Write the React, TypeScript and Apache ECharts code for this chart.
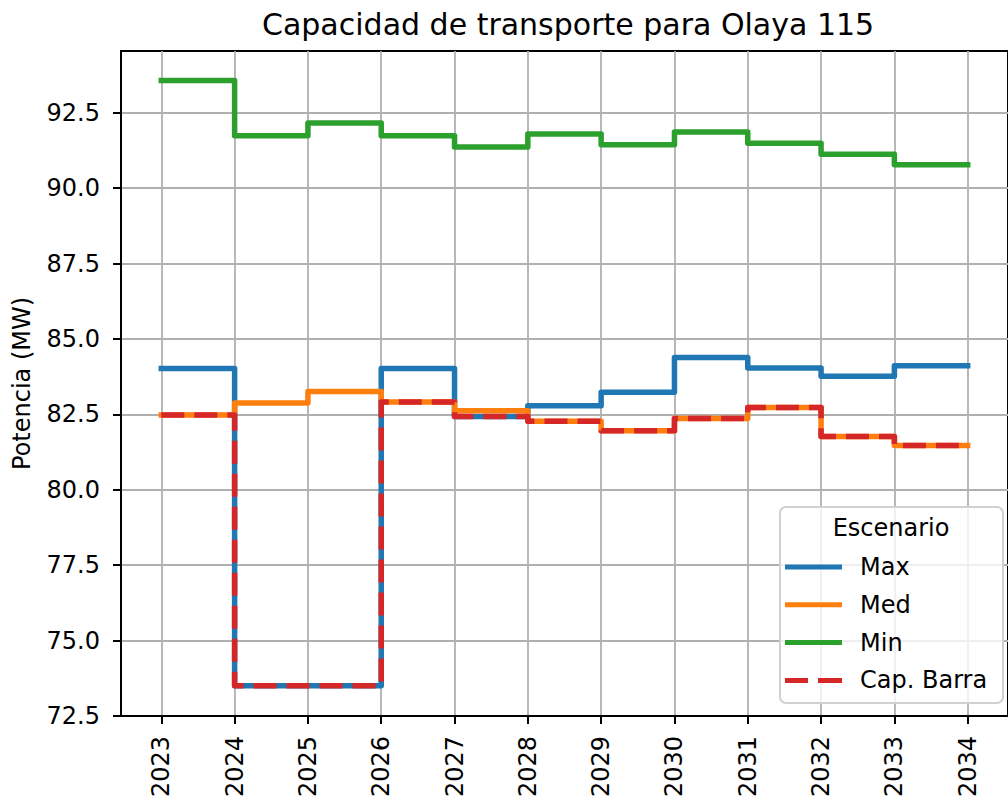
import React, { useEffect, useRef } from "react";
import * as echarts from "echarts";

const years = [2023, 2024, 2025, 2026, 2027, 2028, 2029, 2030, 2031, 2032, 2033, 2034];
const maxVals = [84.02, 73.5, 73.5, 84.02, 82.43, 82.79, 83.23, 84.39, 84.04, 83.76, 84.11, 84.11];
const medVals = [82.48, 82.88, 83.26, 82.91, 82.62, 82.27, 81.96, 82.36, 82.73, 81.77, 81.47, 81.47];
const minVals = [93.57, 91.74, 92.16, 91.74, 91.37, 91.8, 91.44, 91.86, 91.49, 91.13, 90.78, 90.78];
const capVals = [82.48, 73.5, 73.5, 82.91, 82.43, 82.27, 81.96, 82.36, 82.73, 81.77, 81.47, 81.47];
const yTicks = [72.5, 75.0, 77.5, 80.0, 82.5, 85.0, 87.5, 90.0, 92.5];

const FONT = "DejaVu Sans";
const BASE = 24;
const SOLID_ICON = "path://M0,0h57v5h-57z";
const DASH_ICON = "path://M0,0h23v5h-23zM33,0h24v5h-24z";

export default function App() {
  const ref = useRef<HTMLDivElement>(null);
  useEffect(() => {
    if (!ref.current) return;
    const chart = echarts.init(ref.current, undefined, { renderer: "svg" });
    const pair = (vals: number[]) => years.map((y, i) => [y, vals[i]]);
    const mk = (name: string, vals: number[], color: string, dashed = false) => ({
      name,
      type: "line",
      step: "end",
      symbol: "none",
      data: pair(vals),
      lineStyle: {
        color,
        width: 5.5,
        type: dashed ? [23, 10] : "solid",
        cap: dashed ? "butt" : "square",
        join: "round",
      },
      itemStyle: { color },
    });
    chart.setOption({
      animation: false,
      textStyle: { fontFamily: FONT },
      title: {
        text: "Capacidad de transporte para Olaya 115",
        left: 257,
        top: 4,
        textStyle: { fontFamily: FONT, fontSize: 30, fontWeight: "normal", color: "#000" },
      },
      grid: {
        left: 121,
        top: 51,
        right: -6,
        bottom: 83,
        show: true,
        borderColor: "#000",
        borderWidth: 2,
        backgroundColor: "transparent",
      },
      xAxis: {
        type: "value",
        min: 2022.45,
        max: 2034.55,
        axisLine: { show: true, lineStyle: { color: "#000", width: 2 } },
        axisTick: { show: true, customValues: years, length: 8, lineStyle: { color: "#000", width: 2 } },
        axisLabel: {
          customValues: years,
          rotate: 90,
          margin: 20,
          fontSize: BASE,
          fontFamily: FONT,
          color: "#000",
          formatter: (v: number) => String(v),
        },
        splitLine: { show: true, lineStyle: { color: "#b0b0b0", width: 1.8 } },
      },
      yAxis: {
        type: "value",
        min: 72.5,
        max: 94.55,
        name: "Potencia (MW)",
        nameLocation: "middle",
        nameGap: 87,
        nameTextStyle: { fontSize: BASE, fontFamily: FONT, color: "#000" },
        axisLine: { show: true, lineStyle: { color: "#000", width: 2 } },
        axisTick: { show: true, customValues: yTicks, length: 8, lineStyle: { color: "#000", width: 2 } },
        axisLabel: {
          customValues: yTicks,
          margin: 21,
          fontSize: BASE,
          fontFamily: FONT,
          color: "#000",
          formatter: (v: number) => v.toFixed(1),
        },
        splitLine: { show: true, lineStyle: { color: "#b0b0b0", width: 1.8 } },
      },
      legend: {
        orient: "vertical",
        left: 785,
        top: 555,
        z: 20,
        padding: 0,
        itemWidth: 57,
        itemHeight: 5,
        itemGap: 13.8,
        data: [
          { name: "Max", icon: SOLID_ICON },
          { name: "Med", icon: SOLID_ICON },
          { name: "Min", icon: SOLID_ICON },
          { name: "Cap. Barra", icon: DASH_ICON },
        ],
        textStyle: { fontSize: BASE, fontFamily: FONT, color: "#000", lineHeight: 24, padding: [0, 0, 0, 13] },
      },
      graphic: [
        {
          type: "rect",
          z: 10,
          shape: { x: 780, y: 507, width: 223, height: 196, r: 6 },
          style: { fill: "rgba(255,255,255,0.8)", stroke: "#d0d0d0", lineWidth: 2 },
        },
        {
          type: "text",
          z: 11,
          x: 891,
          y: 528,
          style: {
            text: "Escenario",
            fontSize: BASE,
            fontFamily: FONT,
            fill: "#000",
            textAlign: "center",
            textVerticalAlign: "middle",
          },
        },
      ],
      series: [
        mk("Max", maxVals, "#1f77b4"),
        mk("Med", medVals, "#ff7f0e"),
        mk("Min", minVals, "#2ca02c"),
        mk("Cap. Barra", capVals, "#d62728", true),
      ],
    });
    return () => chart.dispose();
  }, []);
  return (
    <div
      ref={ref}
      style={{ position: "absolute", left: 0, top: 0, width: 1008, height: 800 }}
    />
  );
}
